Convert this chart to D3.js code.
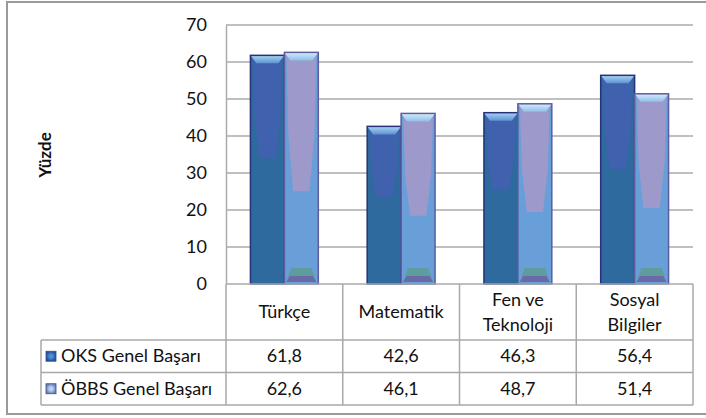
<!DOCTYPE html>
<html>
<head>
<meta charset="utf-8">
<script src="https://cdn.jsdelivr.net/npm/d3@7"></script>
<style>
  body { margin: 0; background: #fff; }
  text { font-family: Lato, "Open Sans", sans-serif; fill: #111; }
</style>
</head>
<body>
<div id="vis"></div>
<script>
// data
let categories = ["Türkçe", "Matematik", "Fen ve\nTeknoloji", "Sosyal\nBilgiler"];
let seriesNames = ["OKS Genel Başarı", "ÖBBS Genel Başarı"];
let oksValues = [61.8, 42.6, 46.3, 56.4];
let obbsValues = [62.6, 46.1, 48.7, 51.4];
let valueLabels = [["61,8", "42,6", "46,3", "56,4"], ["62,6", "46,1", "48,7", "51,4"]];
let yTicks = [0, 10, 20, 30, 40, 50, 60, 70];

let width = 706, height = 418;
let plot = { left: 226, right: 693, top: 25, bottom: 284 };
let rowH = [56, 32.5, 32.5]; // category row, two data rows
let tableLeft = 41;
let fontSize = '18px';

let svg = d3.select('#vis')
  .append('svg')
  .attr('width', width)
  .attr('height', height);

// outer frame
svg.append('rect')
  .attr('x', 7).attr('y', 2)
  .attr('width', 710).attr('height', 412)
  .attr('fill', 'none')
  .attr('stroke', '#9a9a9a')
  .attr('stroke-width', 2);

let x = d3.scaleBand().domain(categories).range([plot.left, plot.right]);
let xs = d3.scaleBand().domain(seriesNames).range([0, x.bandwidth()]).paddingOuter(0.72);
let y = d3.scaleLinear().domain([0, 70]).range([plot.bottom, plot.top]);

// gridlines
svg.append('g')
  .selectAll('line')
  .data(yTicks.filter(d => d > 0))
  .join('line')
  .attr('x1', plot.left).attr('x2', plot.right)
  .attr('y1', d => y(d)).attr('y2', d => y(d))
  .attr('stroke', '#ababab').attr('stroke-width', 1.5);

// y axis
let yAxis = svg.append('g')
  .attr('transform', `translate(${plot.left},0)`)
  .call(d3.axisLeft(y).tickValues(yTicks).tickSize(0).tickPadding(19));
yAxis.select('.domain').attr('stroke', '#ababab').attr('stroke-width', 1.5);
yAxis.selectAll('text')
  .style('font-family', 'Lato, sans-serif')
  .style('font-size', fontSize)
  .attr('fill', '#111');

svg.append('text')
  .attr('transform', 'translate(51,155) rotate(-90)')
  .attr('text-anchor', 'middle')
  .style('font-size', '17px')
  .style('font-weight', 'bold')
  .text('Yüzde');

// gradients
let defs = svg.append('defs');
function grad(id, c1, c2) {
  let g = defs.append('linearGradient').attr('id', id)
    .attr('x1', 0).attr('x2', 0).attr('y1', 0).attr('y2', 1);
  g.append('stop').attr('offset', '0%').attr('stop-color', c1);
  g.append('stop').attr('offset', '100%').attr('stop-color', c2);
}
grad('capOks', '#a9d4f2', '#5d93d3');
grad('capObbs', '#d6ecfb', '#8fbfe8');

let styles = [
  { values: oksValues, low: '#2f6a9e', high: '#3f61ae', stroke: '#28307a', cap: 'url(#capOks)', split: 0.45, foot: null },
  { values: obbsValues, low: '#689fd8', high: '#9d9acb', stroke: '#5d5d9e', cap: 'url(#capObbs)', split: 0.6, foot: '#5f9c9e' }
];

styles.forEach((s, si) => {
  let g = svg.append('g');
  let bars = g.selectAll('g')
    .data(categories.map((c, i) => ({ c: c, v: s.values[i] })))
    .join('g')
    .attr('transform', d => `translate(${x(d.c) + xs(seriesNames[si])},0)`);
  let w = xs.bandwidth();

  bars.append('rect')
    .attr('x', 0).attr('y', d => y(d.v))
    .attr('width', w).attr('height', d => y(0) - y(d.v))
    .attr('fill', s.low);

  // upper lighter part narrowing downward
  bars.append('polygon')
    .attr('points', d => {
      let t = y(d.v), h = y(0) - t, b = t + h * s.split;
      return [[2, t], [w - 2, t], [w - 4, t + h * s.split * 0.6], [w * 0.74, b], [w * 0.26, b], [4, t + h * s.split * 0.6]].join(' ');
    })
    .attr('fill', s.high);

  if (s.foot) {
    bars.append('polygon')
      .attr('points', d => {
        let b = y(0);
        return [[2, b - 2], [w - 2, b - 2], [w * 0.8, b - 16], [w * 0.2, b - 16]].join(' ');
      })
      .attr('fill', s.foot);
    bars.append('polygon')
      .attr('points', d => {
        let b = y(0);
        return [[2, b - 2], [w - 2, b - 2], [w * 0.84, b - 8], [w * 0.16, b - 8]].join(' ');
      })
      .attr('fill', '#6a6aa8');
  }

  // top bevel cap
  bars.append('polygon')
    .attr('points', d => {
      let t = y(d.v);
      return [[0, t], [w, t], [w - 6, t + 8], [6, t + 8]].join(' ');
    })
    .attr('fill', s.cap);

  bars.append('rect')
    .attr('x', 0).attr('y', d => y(d.v))
    .attr('width', w).attr('height', d => y(0) - y(d.v))
    .attr('fill', 'none')
    .attr('stroke', s.stroke).attr('stroke-width', 1.5);
});

// data table
let rowY = [plot.bottom, plot.bottom + rowH[0], plot.bottom + rowH[0] + rowH[1], plot.bottom + rowH[0] + rowH[1] + rowH[2]];
let tbl = svg.append('g').attr('stroke', '#a8a8a8').attr('stroke-width', 1.5);
tbl.append('line').attr('x1', plot.left).attr('x2', plot.right).attr('y1', rowY[0]).attr('y2', rowY[0]);
[1, 2, 3].forEach(r => {
  tbl.append('line').attr('x1', tableLeft).attr('x2', plot.right).attr('y1', rowY[r]).attr('y2', rowY[r]);
});
tbl.append('line').attr('x1', tableLeft).attr('x2', tableLeft).attr('y1', rowY[1]).attr('y2', rowY[3]);
tbl.selectAll('line.col')
  .data(categories)
  .join('line')
  .attr('class', 'col')
  .attr('x1', d => x(d)).attr('x2', d => x(d))
  .attr('y1', rowY[0]).attr('y2', rowY[3]);
tbl.append('line').attr('x1', plot.right).attr('x2', plot.right).attr('y1', rowY[0]).attr('y2', rowY[3]);

// category labels
svg.append('g')
  .selectAll('text')
  .data(categories)
  .join('text')
  .attr('text-anchor', 'middle')
  .style('font-size', fontSize)
  .attr('x', d => x(d) + x.bandwidth() / 2)
  .each(function(d) {
    let lines = d.split('\n');
    let mid = (rowY[0] + rowY[1]) / 2;
    d3.select(this).selectAll('tspan')
      .data(lines)
      .join('tspan')
      .attr('x', x(d) + x.bandwidth() / 2)
      .attr('y', (l, i) => mid + 6 + (i - (lines.length - 1) / 2) * 25)
      .text(l => l);
  });

// values rows
valueLabels.forEach((row, r) => {
  svg.append('g')
    .selectAll('text')
    .data(row)
    .join('text')
    .attr('text-anchor', 'middle')
    .style('font-size', fontSize)
    .attr('x', (d, i) => x(categories[i]) + x.bandwidth() / 2)
    .attr('y', (rowY[r + 1] + rowY[r + 2]) / 2 + 6)
    .text(d => d);
});

// legend keys in table
let keyFill = [['#1f4f98', '#4f8fd6'], ['#6f7fb8', '#b6d7f4']];
seriesNames.forEach((name, r) => {
  let cy = (rowY[r + 1] + rowY[r + 2]) / 2;
  let gid = 'key' + r;
  let g = defs.append('radialGradient').attr('id', gid);
  g.append('stop').attr('offset', '30%').attr('stop-color', keyFill[r][1]);
  g.append('stop').attr('offset', '100%').attr('stop-color', keyFill[r][0]);
  svg.append('rect')
    .attr('x', 46).attr('y', cy - 5)
    .attr('width', 10).attr('height', 10)
    .attr('fill', `url(#${gid})`)
    .attr('stroke', '#3b4f8a').attr('stroke-width', 0.8);
  svg.append('text')
    .attr('x', 61).attr('y', cy + 6)
    .style('font-size', fontSize)
    .text(name);
});
</script>
</body>
</html>
